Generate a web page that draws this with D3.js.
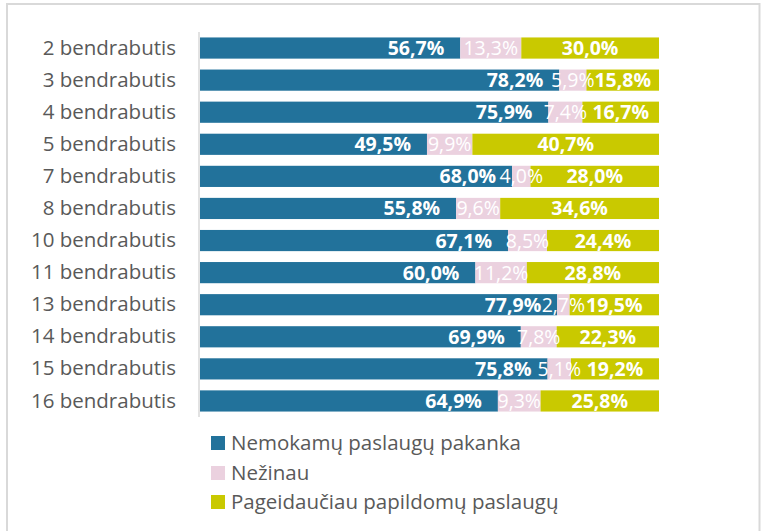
<!DOCTYPE html>
<html>
<head>
<meta charset="utf-8">
<script src="https://cdn.jsdelivr.net/npm/d3@7"></script>
<style>
  html, body { margin: 0; padding: 0; background: #fff; }
  svg { display: block; }
</style>
</head>
<body>
<svg id="chart" width="762" height="531"></svg>
<script>
const categories = ["2 bendrabutis","3 bendrabutis","4 bendrabutis","5 bendrabutis","7 bendrabutis","8 bendrabutis","10 bendrabutis","11 bendrabutis","13 bendrabutis","14 bendrabutis","15 bendrabutis","16 bendrabutis"];
const seriesNames = ["Nemokamų paslaugų pakanka","Nežinau","Pageidaučiau papildomų paslaugų"];
const nemokamu = [56.7, 78.2, 75.9, 49.5, 68.0, 55.8, 67.1, 60.0, 77.9, 69.9, 75.8, 64.9];
const nezinau  = [13.3, 5.9, 7.4, 9.9, 4.0, 9.6, 8.5, 11.2, 2.7, 7.8, 5.1, 9.3];
const pageidauciau = [30.0, 15.8, 16.7, 40.7, 28.0, 34.6, 24.4, 28.8, 19.5, 22.3, 19.2, 25.8];
const colors = ["#22729b", "#ebd1df", "#c9c900"];

const svg = d3.select("#chart");
const fontFam = "'Open Sans', sans-serif";

// frame
svg.append("rect").attr("x", 7).attr("y", 4).attr("width", 752.5).attr("height", 600)
  .attr("fill", "#fff").attr("stroke", "#d9d9d9").attr("stroke-width", 2);

const x = d3.scaleLinear().domain([0, 1]).range([200, 659]);
const y = d3.scaleBand().domain(categories).range([32, 417]).paddingInner(0.34).paddingOuter(0.17);

const rows = categories.map((c, i) => {
  const vals = [nemokamu[i], nezinau[i], pageidauciau[i]];
  const tot = d3.sum(vals);
  let acc = 0;
  return { cat: c, segs: vals.map((v, k) => { const s = { k, v, x0: acc / tot, x1: (acc + v) / tot }; acc += v; return s; }) };
});

const g = svg.append("g");
rows.forEach(r => {
  r.segs.forEach(s => {
    g.append("rect")
      .attr("x", x(s.x0)).attr("y", y(r.cat))
      .attr("width", x(s.x1) - x(s.x0)).attr("height", y.bandwidth())
      .attr("fill", colors[s.k]);
  });
});

// axis line
svg.append("line").attr("x1", 199).attr("x2", 199).attr("y1", 32).attr("y2", 417)
  .attr("stroke", "#d9d9d9").attr("stroke-width", 1.5);

// category labels
const yAxis = d3.axisLeft(y).tickSize(0).tickPadding(23);
const ax = svg.append("g").attr("transform", "translate(199,0)").call(yAxis);
ax.select(".domain").remove();
ax.selectAll("text").attr("font-family", fontFam).attr("font-size", 20.5).attr("fill", "#595959");

// value labels
const fmt = v => v.toFixed(1).replace(".", ",") + "%";
rows.forEach(r => {
  r.segs.forEach(s => {
    const t = g.append("text")
      .attr("y", y(r.cat) + y.bandwidth() / 2)
      .attr("dy", "0.36em")
      .attr("fill", "#fff")
      .attr("font-family", fontFam)
      .attr("font-size", 19.5)
      .text(fmt(s.v));
    if (s.k === 0) {
      t.attr("x", x(s.x1) - 16).attr("text-anchor", "end").attr("font-weight", "bold");
    } else if (s.k === 1) {
      t.attr("x", (x(s.x0) + x(s.x1)) / 2).attr("text-anchor", "middle");
    } else {
      t.attr("x", (x(s.x0) + x(s.x1)) / 2).attr("text-anchor", "middle").attr("font-weight", "bold");
    }
  });
});

// legend
const lg = svg.append("g");
const legY = [443, 473, 502];
seriesNames.forEach((n, i) => {
  lg.append("rect").attr("x", 211).attr("y", legY[i] - 7).attr("width", 14).attr("height", 14).attr("fill", colors[i]);
  lg.append("text").attr("x", 231).attr("y", legY[i]).attr("dy", "0.36em")
    .attr("font-family", fontFam).attr("font-size", 20.5).attr("fill", "#595959").text(n);
});
</script>
</body>
</html>
